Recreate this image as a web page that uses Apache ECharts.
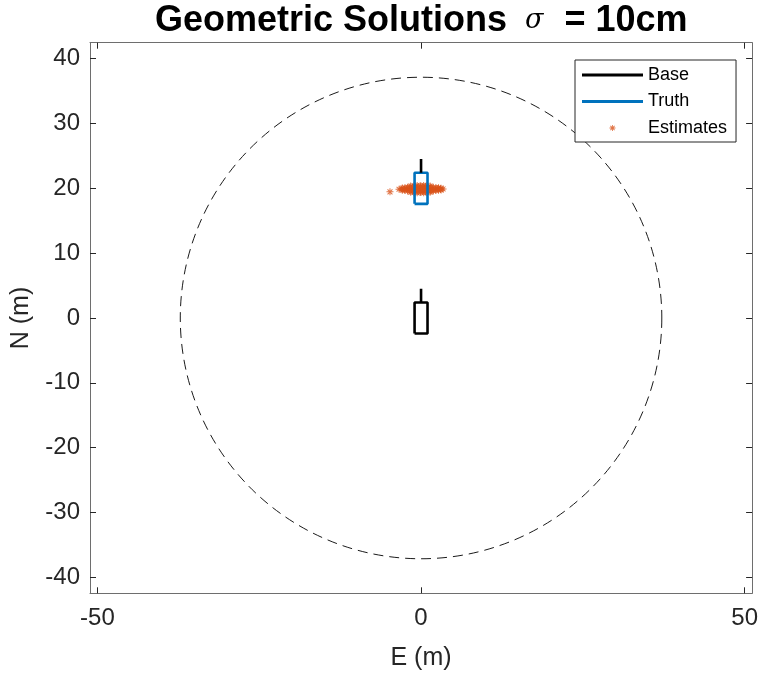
<!DOCTYPE html>
<html>
<head>
<meta charset="utf-8">
<script src="https://cdn.jsdelivr.net/npm/echarts@6/dist/echarts.min.js"></script>
<style>
  html, body { margin: 0; padding: 0; background: #fff; }
  #main { width: 761px; height: 678px; }
</style>
</head>
<body>
<div id="main"></div>
<script>
// axis ticks
var xTicks = [-50, 0, 50];
var yTicks = [-40, -30, -20, -10, 0, 10, 20, 30, 40];

// dashed circle: centre x, centre y, radius (m)
var circleData = [[0, 0, 37.2]];

// base box and its stick
var baseBox = [[-1, -2.4], [1, -2.4], [1, 2.4], [-1, 2.4], [-1, -2.4]];
var baseStick = [[0, 2.4], [0, 4.5]];

// truth box and its stick
var truthBox = [[-1, 17.6], [1, 17.6], [1, 22.4], [-1, 22.4], [-1, 17.6]];
var truthStick = [[0, 22.4], [0, 24.5]];

// position estimates (E, N)
var estimates = [
    [-4.8, 19.45],
    [-3.4, 19.85], [-3.0, 19.9], [-2.6, 19.8], [-2.2, 19.95], [-1.8, 19.85],
    [-1.4, 19.9], [-1.0, 19.8], [-0.6, 19.95], [-0.2, 19.85], [0.2, 19.9],
    [0.6, 19.8], [1.0, 19.95], [1.4, 19.85], [1.8, 19.9], [2.2, 19.8],
    [2.6, 19.95], [3.0, 19.85], [3.4, 19.9],
    [-2.9, 20.05], [-2.5, 20.1], [-2.1, 20.15], [-1.7, 20.2], [-1.3, 20.15],
    [-0.9, 20.25], [-0.5, 20.2], [-0.1, 20.25], [0.3, 20.2], [0.7, 20.25],
    [1.1, 20.15], [1.5, 20.2], [1.9, 20.15], [2.3, 20.1], [2.7, 20.1],
    [3.1, 20.0],
    [-2.9, 19.7], [-2.5, 19.65], [-2.1, 19.6], [-1.7, 19.55], [-1.3, 19.6],
    [-0.9, 19.5], [-0.5, 19.55], [-0.1, 19.5], [0.3, 19.55], [0.7, 19.5],
    [1.1, 19.6], [1.5, 19.55], [1.9, 19.6], [2.3, 19.65], [2.7, 19.7],
    [3.1, 19.75],
    [-1.6, 20.35], [-1.1, 20.4], [-0.6, 20.45], [-0.1, 20.4], [0.4, 20.45],
    [0.9, 20.4], [1.4, 20.35],
    [-1.6, 19.4], [-1.1, 19.35], [-0.6, 19.3], [-0.1, 19.35], [0.4, 19.3],
    [0.9, 19.35], [1.4, 19.4]
];

var asterisk = 'path://M-0.7,-5L0.7,-5L0.7,5L-0.7,5Z' +
    'M-5,-0.7L5,-0.7L5,0.7L-5,0.7Z' +
    'M-3,-4L4,3L3,4L-4,-3Z' +
    'M-4,3L3,-4L4,-3L-3,4Z';
var legendBar = 'path://M0,0L61,0L61,3L0,3Z';

var xRange = 51.15;
var yRange = 42.45;

var chart = echarts.init(document.getElementById('main'));

var axisColor = '#262626';
var boxColor = '#6e6e6e';

var option = {
    animation: false,
    backgroundColor: '#fff',
    title: {
        text: '{b|Geometric Solutions }{s|σ}{b| = 10cm}',
        left: 150,
        top: -2,
        textStyle: {
            rich: {
                b: { fontFamily: 'Liberation Sans', fontWeight: 'bold', fontSize: 36, color: '#000' },
                s: { fontFamily: 'DejaVu Serif', fontStyle: 'italic', fontWeight: 'normal', fontSize: 27, color: '#000', padding: [0, 11, 0, 8] }
            }
        }
    },
    legend: {
        orient: 'vertical',
        left: 575,
        top: 60,
        padding: [5, 9, 4, 7],
        itemWidth: 61,
        itemHeight: 6,
        itemGap: 6.5,
        itemTextGap: 6,
        selectedMode: false,
        backgroundColor: '#fff',
        borderColor: axisColor,
        borderWidth: 1,
        textStyle: { fontFamily: 'Liberation Sans', fontSize: 18, color: '#000', lineHeight: 20 },
        data: [
            { name: 'Base', icon: legendBar, itemStyle: { color: '#000' } },
            { name: 'Truth', icon: legendBar, itemStyle: { color: '#0072BD' } },
            { name: 'Estimates', icon: asterisk, itemStyle: { color: '#D95319' } }
        ]
    },
    grid: { left: 90, right: 7.7, top: 42.7, bottom: 84.7 },
    xAxis: [
        {
            type: 'value', min: -xRange, max: xRange,
            name: 'E (m)', nameLocation: 'middle', nameGap: 52,
            nameTextStyle: { fontFamily: 'Liberation Sans', fontSize: 25, color: axisColor },
            axisLine: { show: true, onZero: false, lineStyle: { color: boxColor, width: 1 } },
            axisTick: { show: true, inside: true, length: 6, customValues: xTicks, lineStyle: { color: axisColor } },
            axisLabel: { show: true, customValues: xTicks, margin: 13, fontFamily: 'Liberation Sans', fontSize: 24, color: axisColor },
            splitLine: { show: false }
        },
        {
            type: 'value', min: -xRange, max: xRange, position: 'top',
            axisLine: { show: true, onZero: false, lineStyle: { color: boxColor, width: 1 } },
            axisTick: { show: true, inside: true, length: 6, customValues: xTicks, lineStyle: { color: axisColor } },
            axisLabel: { show: false },
            splitLine: { show: false }
        }
    ],
    yAxis: [
        {
            type: 'value', min: -yRange, max: yRange,
            name: 'N (m)', nameLocation: 'middle', nameGap: 56, nameRotate: 90,
            nameTextStyle: { fontFamily: 'Liberation Sans', fontSize: 25, color: axisColor },
            axisLine: { show: true, onZero: false, lineStyle: { color: boxColor, width: 1 } },
            axisTick: { show: true, inside: true, length: 6, customValues: yTicks, lineStyle: { color: axisColor } },
            axisLabel: { show: true, customValues: yTicks, margin: 10, fontFamily: 'Liberation Sans', fontSize: 24, color: axisColor },
            splitLine: { show: false }
        },
        {
            type: 'value', min: -yRange, max: yRange, position: 'right',
            axisLine: { show: true, onZero: false, lineStyle: { color: boxColor, width: 1 } },
            axisTick: { show: true, inside: true, length: 6, customValues: yTicks, lineStyle: { color: axisColor } },
            axisLabel: { show: false },
            splitLine: { show: false }
        }
    ],
    series: [
        {
            name: 'circle',
            type: 'custom',
            xAxisIndex: 0, yAxisIndex: 0,
            data: circleData,
            renderItem: function (params, api) {
                var c = api.coord([api.value(0), api.value(1)]);
                var r = api.size([api.value(2), 0])[0];
                return {
                    type: 'circle',
                    shape: { cx: c[0], cy: c[1], r: r },
                    style: { fill: 'none', stroke: '#000', lineWidth: 0.9, lineDash: [10, 6] }
                };
            },
            silent: true
        },
        {
            name: 'Base', type: 'line', data: baseBox, symbol: 'none',
            lineStyle: { color: '#000', width: 2.6 }, itemStyle: { color: '#000' }
        },
        {
            name: 'Base', type: 'line', data: baseStick, symbol: 'none',
            lineStyle: { color: '#000', width: 2.6 }, itemStyle: { color: '#000' }
        },
        {
            name: 'Truth', type: 'line', data: truthBox, symbol: 'none',
            lineStyle: { color: '#0072BD', width: 2.6 }, itemStyle: { color: '#0072BD' }
        },
        {
            name: 'truthStick', type: 'line', data: truthStick, symbol: 'none',
            lineStyle: { color: '#000', width: 2.6 }
        },
        {
            name: 'Estimates', type: 'scatter', data: estimates,
            symbol: asterisk, symbolSize: 7,
            itemStyle: { color: '#D95319' }
        }
    ]
};

chart.setOption(option);
</script>
</body>
</html>
